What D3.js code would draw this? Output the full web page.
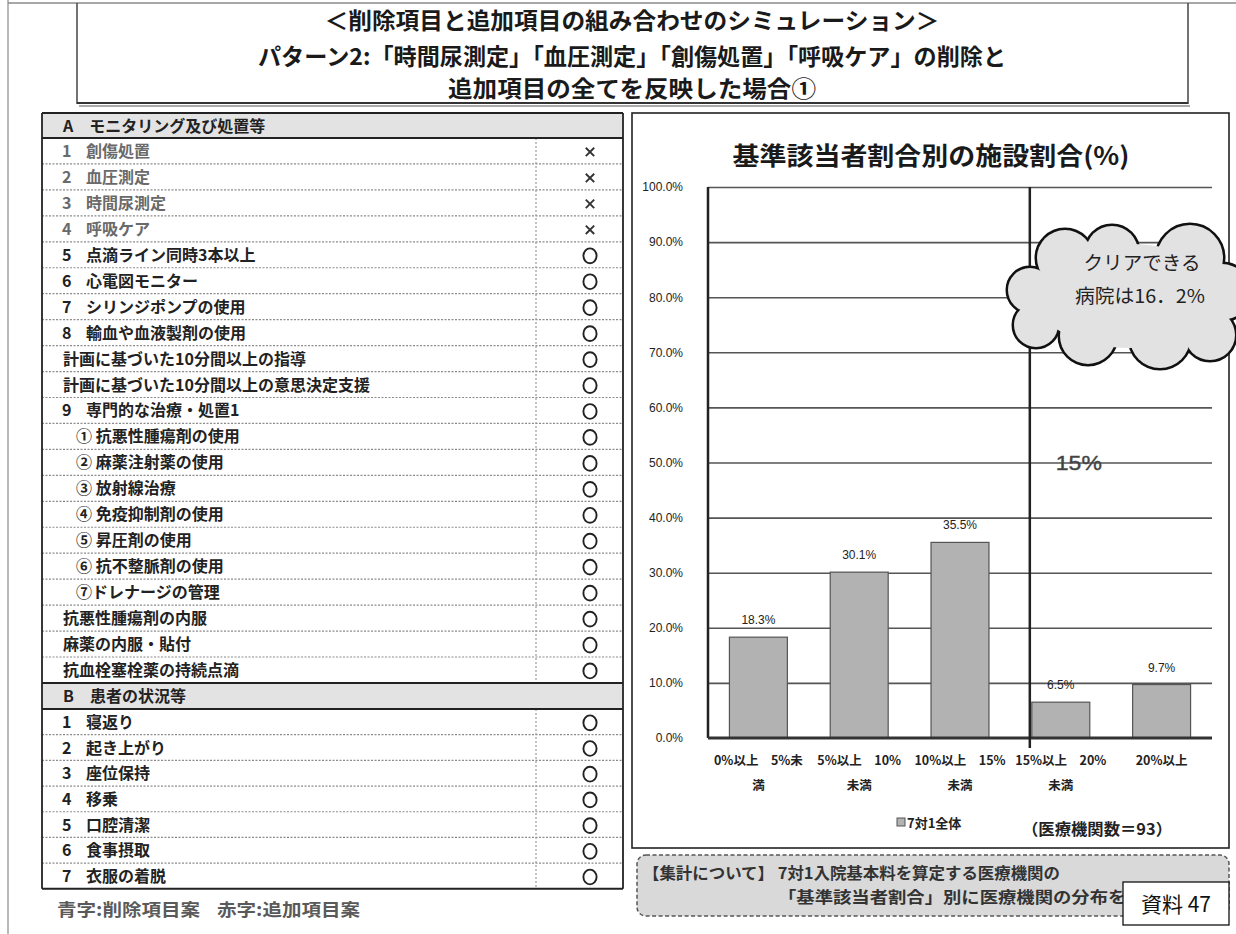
<!DOCTYPE html>
<html>
<head>
<meta charset="utf-8">
<script src="https://cdn.jsdelivr.net/npm/d3@7"></script>
<style>
  html, body { margin: 0; padding: 0; background: #fff; }
  svg { display: block; }
</style>
</head>
<body>
<svg id="page" width="1236" height="934"></svg>
<script>
// ---- content -------------------------------------------------------------
const titleLines = [
  "＜削除項目と追加項目の組み合わせのシミュレーション＞",
  "パターン2:「時間尿測定」「血圧測定」「創傷処置」「呼吸ケア」の削除と",
  "追加項目の全てを反映した場合①"
];

const headerA = "A　モニタリング及び処置等";
const itemsA = [
  "1 創傷処置", "2 血圧測定", "3 時間尿測定", "4 呼吸ケア",
  "5 点滴ライン同時3本以上", "6 心電図モニター", "7 シリンジポンプの使用",
  "8 輸血や血液製剤の使用", "計画に基づいた10分間以上の指導",
  "計画に基づいた10分間以上の意思決定支援", "9 専門的な治療・処置1",
  "① 抗悪性腫瘍剤の使用", "② 麻薬注射薬の使用", "③ 放射線治療",
  "④ 免疫抑制剤の使用", "⑤ 昇圧剤の使用", "⑥ 抗不整脈剤の使用",
  "⑦ドレナージの管理", "抗悪性腫瘍剤の内服", "麻薬の内服・貼付",
  "抗血栓塞栓薬の持続点滴"
];
const marksA = [
  "×", "×", "×", "×", "○", "○", "○", "○", "○", "○", "○",
  "○", "○", "○", "○", "○", "○", "○", "○", "○", "○"
];

const headerB = "B　患者の状況等";
const itemsB = ["1 寝返り", "2 起き上がり", "3 座位保持", "4 移乗", "5 口腔清潔", "6 食事摂取", "7 衣服の着脱"];
const marksB = ["○", "○", "○", "○", "○", "○", "○"];

const legendDeleted = "青字:削除項目案";
const legendAdded = "赤字:追加項目案";

const chartTitle = "基準該当者割合別の施設割合(%)";
const categoriesTop = ["0%以上　5%未", "5%以上　10%", "10%以上　15%", "15%以上　20%", "20%以上"];
const categoriesBottom = ["満", "未満", "未満", "未満", ""];
const shares = [18.3, 30.1, 35.5, 6.5, 9.7];
const yTicks = [0, 10, 20, 30, 40, 50, 60, 70, 80, 90, 100];
const thresholdCategory = 3;          // the 15% boundary sits before this bar
const thresholdLabel = "15%";
const seriesName = "7対1全体";
const sampleNote = "（医療機関数＝93）";
const cloudLines = ["クリアできる", "病院は16．2%"];

const noteLines = [
  "【集計について】 7対1入院基本料を算定する医療機関の",
  "「基準該当者割合」別に医療機関の分布を集計"
];
const docLabel = "資料 47";

// ---- drawing -------------------------------------------------------------
const JP = "'Noto Sans CJK JP', 'Noto Sans CJK SC', sans-serif";
const NUM = "'Liberation Sans', Arial, sans-serif";
const svg = d3.select("#page");

// page frame lines
svg.append("line").attr("x1", 8).attr("x2", 8).attr("y1", 0).attr("y2", 934)
  .attr("stroke", "#8a8a8a").attr("stroke-width", 1.2);
svg.append("line").attr("x1", 8).attr("x2", 1236).attr("y1", 3).attr("y2", 3)
  .attr("stroke", "#8a8a8a").attr("stroke-width", 1.5);

// title block
const tb = svg.append("g");
tb.append("line").attr("x1", 77).attr("x2", 77).attr("y1", 3).attr("y2", 104).attr("stroke", "#444").attr("stroke-width", 1.5);
tb.append("line").attr("x1", 1188).attr("x2", 1188).attr("y1", 3).attr("y2", 104).attr("stroke", "#444").attr("stroke-width", 1.5);
tb.append("line").attr("x1", 77).attr("x2", 1188).attr("y1", 103).attr("y2", 103).attr("stroke", "#333").attr("stroke-width", 1.8);
tb.append("line").attr("x1", 79).attr("x2", 1190).attr("y1", 106).attr("y2", 106).attr("stroke", "#aaa").attr("stroke-width", 2);
const titleBase = [29, 65, 97];
const titleLen = [615, 748, 368];
titleLines.forEach((t, i) => {
  tb.append("text").attr("x", 632).attr("y", titleBase[i])
    .attr("text-anchor", "middle").attr("font-family", JP).attr("font-weight", 700)
    .attr("font-size", 23).attr("fill", "#1a1a1a")
    .attr("textLength", titleLen[i]).attr("lengthAdjust", "spacingAndGlyphs")
    .text(t);
});

// ---- left table ----------------------------------------------------------
const T = { x0: 42, x1: 623, top: 113, hdrA: 25, rowA: 25.95, hdrB: 26, rowB: 25.7, sepX: 536, markX: 590 };
const tg = svg.append("g");
const aTop = T.top + T.hdrA;
const aBottom = aTop + itemsA.length * T.rowA;
const bTop = aBottom + T.hdrB;
const bBottom = bTop + itemsB.length * T.rowB;

tg.append("rect").attr("x", T.x0).attr("y", T.top).attr("width", T.x1 - T.x0).attr("height", T.hdrA).attr("fill", "#e3e3e3");
tg.append("rect").attr("x", T.x0).attr("y", aBottom).attr("width", T.x1 - T.x0).attr("height", T.hdrB).attr("fill", "#e3e3e3");

function drawRows(items, marks, top, h) {
  items.forEach((label, i) => {
    const y0 = top + i * h;
    const cy = y0 + h / 2;
    const deleted = marks[i] === "×";
    const color = deleted ? "#6a6a6a" : "#222";
    const num = label.match(/^(\d+) (.*)$/);
    const txt = (x, s) => tg.append("text").attr("x", x).attr("y", cy + 6)
      .attr("font-family", JP).attr("font-weight", 700).attr("font-size", 16)
      .attr("fill", color).text(s);
    if (num) { txt(62, num[1]); txt(86, num[2]); }
    else if (/^[①-⑳]/.test(label)) { txt(76, label); }
    else { txt(63, label); }

    if (marks[i] === "○") {
      tg.append("ellipse").attr("cx", T.markX).attr("cy", cy + 1).attr("rx", 6.6).attr("ry", 7.4)
        .attr("fill", "none").attr("stroke", "#222").attr("stroke-width", 1.9);
    } else {
      const s = 4.2;
      tg.append("path")
        .attr("d", `M${T.markX - s},${cy - s + 1}L${T.markX + s},${cy + s + 1}M${T.markX + s},${cy - s + 1}L${T.markX - s},${cy + s + 1}`)
        .attr("stroke", "#333").attr("stroke-width", 1.9).attr("fill", "none");
    }
    if (i < items.length - 1) {
      tg.append("line").attr("x1", T.x0).attr("x2", T.x1).attr("y1", y0 + h).attr("y2", y0 + h)
        .attr("stroke", "#8c8c8c").attr("stroke-width", 1.2).attr("stroke-dasharray", "2,1.5");
    }
  });
  tg.append("line").attr("x1", T.sepX).attr("x2", T.sepX).attr("y1", top).attr("y2", top + items.length * h)
    .attr("stroke", "#9a9a9a").attr("stroke-width", 1.2).attr("stroke-dasharray", "2,2");
}
drawRows(itemsA, marksA, aTop, T.rowA);
drawRows(itemsB, marksB, bTop, T.rowB);

[[T.top, headerA], [aBottom, headerB]].forEach(([y, s]) => {
  tg.append("text").attr("x", 63).attr("y", y + 19).attr("font-family", JP).attr("font-weight", 700)
    .attr("font-size", 16).attr("fill", "#222").text(s);
});

[T.top, aTop, aBottom, bTop, bBottom].forEach(y => {
  tg.append("line").attr("x1", T.x0).attr("x2", T.x1).attr("y1", y).attr("y2", y)
    .attr("stroke", "#222").attr("stroke-width", 2);
});
[T.x0, T.x1].forEach(x => {
  tg.append("line").attr("x1", x).attr("x2", x).attr("y1", T.top).attr("y2", bBottom)
    .attr("stroke", "#222").attr("stroke-width", 1.8);
});

svg.append("text").attr("x", 57).attr("y", 916).attr("font-family", JP).attr("font-weight", 700)
  .attr("font-size", 17).attr("fill", "#5a5a5a").attr("textLength", 143).attr("lengthAdjust", "spacingAndGlyphs")
  .text(legendDeleted);
svg.append("text").attr("x", 217).attr("y", 916).attr("font-family", JP).attr("font-weight", 700)
  .attr("font-size", 17).attr("fill", "#5a5a5a").attr("textLength", 143).attr("lengthAdjust", "spacingAndGlyphs")
  .text(legendAdded);

// ---- bar chart panel -----------------------------------------------------
const P = { x: 632, y: 113, w: 597, h: 735 };
const cg = svg.append("g");
cg.append("rect").attr("x", P.x).attr("y", P.y).attr("width", P.w).attr("height", P.h)
  .attr("fill", "#fff").attr("stroke", "#222").attr("stroke-width", 1.6);

cg.append("text").attr("x", 931).attr("y", 165).attr("text-anchor", "middle")
  .attr("font-family", JP).attr("font-weight", 700).attr("font-size", 25).attr("fill", "#1a1a1a")
  .attr("textLength", 397).attr("lengthAdjust", "spacingAndGlyphs").text(chartTitle);

const plot = { left: 708, right: 1212, top: 187, bottom: 738 };
const x = d3.scaleBand().domain(categoriesTop).range([plot.left, plot.right])
  .paddingInner(0.425).paddingOuter(0.2125);
const y = d3.scaleLinear().domain([0, 100]).range([plot.bottom, plot.top]);

// gridlines + y labels
const yAxis = cg.append("g").attr("transform", `translate(${plot.left},0)`)
  .call(d3.axisLeft(y).tickValues(yTicks).tickSize(-(plot.right - plot.left)).tickPadding(25)
    .tickFormat(d => d.toFixed(1) + "%"));
yAxis.select(".domain").remove();
yAxis.selectAll(".tick line").attr("stroke", "#555").attr("stroke-width", 1.6)
  .filter(d => d === 0).remove();
yAxis.selectAll(".tick text").attr("font-family", NUM).attr("font-size", 12).attr("fill", "#222");

// bars
cg.selectAll("rect.bar").data(shares).join("rect").attr("class", "bar")
  .attr("x", (d, i) => x(categoriesTop[i])).attr("width", x.bandwidth())
  .attr("y", d => y(d)).attr("height", d => y(0) - y(d))
  .attr("fill", "#b2b2b2").attr("stroke", "#555").attr("stroke-width", 1.2);

cg.selectAll("text.val").data(shares).join("text").attr("class", "val")
  .attr("x", (d, i) => x(categoriesTop[i]) + x.bandwidth() / 2).attr("y", d => y(d) - 13)
  .attr("text-anchor", "middle").attr("font-family", NUM).attr("font-size", 12).attr("fill", "#222")
  .text(d => d.toFixed(1) + "%");

// axis lines
cg.append("line").attr("x1", plot.left).attr("x2", plot.left).attr("y1", plot.top).attr("y2", plot.bottom)
  .attr("stroke", "#222").attr("stroke-width", 2.5);
cg.append("line").attr("x1", plot.left).attr("x2", plot.right).attr("y1", y(0)).attr("y2", y(0))
  .attr("stroke", "#333").attr("stroke-width", 3);

// 15% boundary
const tx = x(categoriesTop[thresholdCategory]) - 2;
cg.append("line").attr("x1", tx).attr("x2", tx).attr("y1", y(100)).attr("y2", y(0) + 10)
  .attr("stroke", "#222").attr("stroke-width", 2.5);
cg.append("text").attr("x", tx + 26).attr("y", y(50) + 7).attr("font-family", NUM)
  .attr("font-size", 21).attr("fill", "#444").attr("stroke", "#444").attr("stroke-width", 0.4)
  .attr("textLength", 46).attr("lengthAdjust", "spacingAndGlyphs").text(thresholdLabel);

// category labels
const xAxis = cg.append("g").attr("transform", `translate(0,${plot.bottom})`)
  .call(d3.axisBottom(x).tickSize(0).tickPadding(0).tickFormat(() => ""));
xAxis.select(".domain").remove();
xAxis.selectAll(".tick text").each(function (d, i) {
  const t = d3.select(this).attr("y", 0).attr("dy", null)
    .attr("font-family", JP).attr("font-weight", 700).attr("font-size", 12.5).attr("fill", "#222");
  t.append("tspan").attr("x", 0).attr("y", 27).text(categoriesTop[i]);
  t.append("tspan").attr("x", 0).attr("y", 52).text(categoriesBottom[i]);
});

// legend
cg.append("rect").attr("x", 897).attr("y", 818).attr("width", 8).attr("height", 8)
  .attr("fill", "#b2b2b2").attr("stroke", "#555").attr("stroke-width", 1);
cg.append("text").attr("x", 907).attr("y", 828).attr("font-family", JP).attr("font-weight", 700)
  .attr("font-size", 13).attr("fill", "#222").text(seriesName);
cg.append("text").attr("x", 1022).attr("y", 835).attr("font-family", JP).attr("font-weight", 700)
  .attr("font-size", 16).attr("fill", "#222").attr("textLength", 150).attr("lengthAdjust", "spacingAndGlyphs")
  .text(sampleNote);

// cloud callout: outlined lobes, then the same lobes filled on top so only the rim shows
const lobes = [
  [1030, 290, 22], [1036, 325, 22], [1065, 258, 28], [1112, 252, 26], [1190, 258, 33],
  [1222, 292, 28], [1210, 335, 25], [1160, 338, 30], [1088, 336, 28]
];
const cloud = svg.append("g");
cloud.selectAll("circle.rim").data(lobes).join("circle").attr("class", "rim")
  .attr("cx", d => d[0]).attr("cy", d => d[1]).attr("r", d => d[2])
  .attr("fill", "#e2e2e2").attr("stroke", "#111").attr("stroke-width", 5);
cloud.selectAll("circle.fill").data(lobes).join("circle").attr("class", "fill")
  .attr("cx", d => d[0]).attr("cy", d => d[1]).attr("r", d => d[2]).attr("fill", "#e2e2e2");
cloud.append("ellipse").attr("cx", 1130).attr("cy", 296).attr("rx", 95).attr("ry", 52).attr("fill", "#e2e2e2");
cloud.append("text").attr("x", 1142).attr("y", 270).attr("text-anchor", "middle").attr("font-family", JP)
  .attr("font-size", 19).attr("fill", "#222").attr("textLength", 117).attr("lengthAdjust", "spacingAndGlyphs")
  .text(cloudLines[0]);
cloud.append("text").attr("x", 1140).attr("y", 303).attr("text-anchor", "middle").attr("font-family", JP)
  .attr("font-size", 19).attr("fill", "#222").attr("textLength", 130).attr("lengthAdjust", "spacingAndGlyphs")
  .text(cloudLines[1]);

// footnote box
const ng = svg.append("g");
ng.append("rect").attr("x", 637).attr("y", 855).attr("width", 592).attr("height", 61).attr("rx", 9)
  .attr("fill", "#d9d9d9").attr("stroke", "#555").attr("stroke-width", 1.5).attr("stroke-dasharray", "4,2.5");
ng.append("text").attr("x", 643).attr("y", 879).attr("font-family", JP).attr("font-weight", 700)
  .attr("font-size", 16).attr("fill", "#333").attr("textLength", 417).attr("lengthAdjust", "spacingAndGlyphs")
  .text(noteLines[0]);
ng.append("text").attr("x", 778).attr("y", 903).attr("font-family", JP).attr("font-weight", 700)
  .attr("font-size", 16).attr("fill", "#333").attr("textLength", 385).attr("lengthAdjust", "spacingAndGlyphs")
  .text(noteLines[1]);

ng.append("rect").attr("x", 1123).attr("y", 882).attr("width", 106).attr("height", 43)
  .attr("fill", "#fff").attr("stroke", "#111").attr("stroke-width", 1.3);
ng.append("text").attr("x", 1176).attr("y", 912).attr("text-anchor", "middle").attr("font-family", JP)
  .attr("font-size", 21).attr("fill", "#111").text(docLabel);
</script>
</body>
</html>
